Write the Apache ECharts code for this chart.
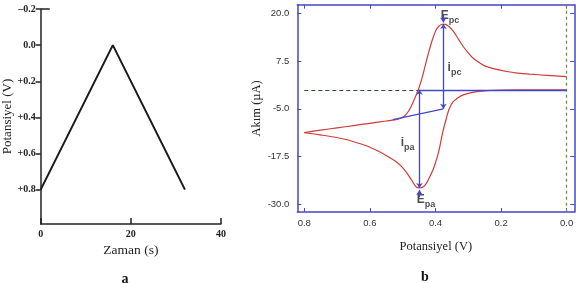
<!DOCTYPE html>
<html>
<head>
<meta charset="utf-8">
<script src="https://cdn.jsdelivr.net/npm/echarts@6/dist/echarts.min.js"></script>
<style>html,body{margin:0;padding:0;background:#fff}#c{width:576px;height:283px}</style>
</head>
<body>
<div id="c"></div>
<script>
// Panel a: triangular potential waveform
var timeS = [0, 16, 32];
var potV = [0.8, 0.0, 0.8];
var aYTicks = [-0.2, 0.0, 0.2, 0.4, 0.6, 0.8];
var aXTicks = [0, 20, 40];

// Panel b: cyclic voltammogram
var fwdV = [0.8, 0.75, 0.7, 0.65, 0.6, 0.55, 0.524, 0.51, 0.50, 0.49, 0.48, 0.47, 0.46, 0.45, 0.44, 0.43, 0.42, 0.41, 0.40, 0.39, 0.38, 0.374, 0.36, 0.346, 0.33, 0.315, 0.30, 0.285, 0.26, 0.244, 0.21, 0.183, 0.15, 0.112, 0.06, 0.0];
var fwdI = [-11.25, -10.6, -10.0, -9.4, -8.8, -8.2, -7.9, -7.6, -7.2, -6.5, -5.3, -3.6, -1.6, 0.6, 3.4, 6.8, 10.1, 13.0, 15.4, 16.7, 17.2, 17.25, 16.7, 15.4, 13.3, 11.3, 9.7, 8.3, 6.8, 6.1, 5.3, 4.8, 4.4, 4.1, 3.8, 3.45];
var revV = [0.0, 0.1, 0.2, 0.244, 0.274, 0.30, 0.315, 0.33, 0.346, 0.358, 0.368, 0.378, 0.391, 0.404, 0.417, 0.428, 0.437, 0.449, 0.46, 0.473, 0.487, 0.503, 0.52, 0.544, 0.575, 0.605, 0.64, 0.676, 0.71, 0.747, 0.8];
var revI = [0.0, 0.0, -0.05, -0.2, -0.5, -0.95, -1.35, -2.0, -3.1, -5.0, -7.8, -11.2, -16.5, -20.2, -22.8, -24.6, -25.5, -25.8, -25.4, -23.7, -21.9, -20.2, -18.9, -17.6, -16.1, -14.9, -13.9, -13.0, -12.4, -11.9, -11.25];
var bXTicks = [0.8, 0.6, 0.4, 0.2, 0.0];
var bYTicks = [-30.0, -17.5, -5.0, 7.5, 20.0];

// annotation values
var epcV = 0.376, epcI = 17.25;
var epaV = 0.449, epaI = -25.8;
var baseStart = [0.53, -7.85];
var baseEnd = [0.376, -5.0];
var zeroDashEnd = 0.452;
var annoMain = ['E', 'i', 'i', 'E'];
var annoSub = ['pc', 'pc', 'pa', 'pa'];
var annoV = [0.356, 0.342, 0.485, 0.429];
var annoI = [19.4, 5.7, -13.95, -28.9];

function zip(a, b) { return a.map(function (v, i) { return [v, b[i]]; }); }

var BLUE = '#4646c8';
var SERIF = '"Liberation Serif","DejaVu Serif",serif';
var SANS = '"Liberation Sans",Arial,sans-serif';
var bXMin = -0.0232, bXMax = 0.8213, bYMin = -32.1, bYMax = 22.35;

var chart = echarts.init(document.getElementById('c'), null, {renderer: 'canvas'});
var blueLine = {color: BLUE, width: 1.3, type: 'solid'};
var option = {
  animation: false,
  backgroundColor: '#fff',
  title: [
    {text: 'a', left: 120, top: 267, textAlign: 'center', textStyle: {fontFamily: SERIF, fontWeight: 'bold', fontSize: 14, color: '#111'}},
    {text: 'b', left: 420, top: 265, textAlign: 'center', textStyle: {fontFamily: SERIF, fontWeight: 'bold', fontSize: 14, color: '#111'}}
  ],
  grid: [
    {left: 40.7, top: 9, width: 180.3, height: 215, outerBoundsMode: 'none', containLabel: false},
    {left: 297.3, top: 4.7, width: 277, height: 207.3, outerBoundsMode: 'none', containLabel: false}
  ],
  xAxis: [
    {gridIndex: 0, type: 'value', min: 0, max: 40,
     axisLine: {onZero: false, lineStyle: {color: '#222', width: 1.5}},
     axisTick: {inside: true, length: 6, customValues: aXTicks, lineStyle: {color: '#222', width: 1.5}},
     axisLabel: {customValues: aXTicks, fontFamily: SERIF, fontWeight: 'bold', fontSize: 10, color: '#222', margin: 5},
     splitLine: {show: false},
     name: 'Zaman (s)', nameLocation: 'middle', nameGap: 16,
     nameTextStyle: {fontFamily: SERIF, fontSize: 13.5, color: '#222'}},
    {gridIndex: 1, type: 'value', min: bXMin, max: bXMax, inverse: true, position: 'bottom',
     axisLine: {onZero: false, lineStyle: {color: BLUE, width: 1.5}},
     axisTick: {inside: true, length: 4, customValues: bXTicks, lineStyle: {color: BLUE}},
     axisLabel: {customValues: bXTicks, formatter: function (v) { return v.toFixed(1); }, fontFamily: SANS, fontSize: 9.5, color: '#333', margin: 6},
     splitLine: {show: false},
     name: 'Potansiyel (V)', nameLocation: 'middle', nameGap: 28,
     nameTextStyle: {fontFamily: SERIF, fontSize: 12.5, color: '#222'}},
    {gridIndex: 1, type: 'value', min: bXMin, max: bXMax, inverse: true, position: 'top',
     axisLine: {onZero: false, lineStyle: {color: BLUE, width: 1.5}},
     axisTick: {inside: true, length: 4, customValues: bXTicks, lineStyle: {color: BLUE}},
     axisLabel: {show: false}, splitLine: {show: false}}
  ],
  yAxis: [
    {gridIndex: 0, type: 'value', min: -0.2, max: 0.99, inverse: true,
     axisLine: {show: true, onZero: false, lineStyle: {color: '#222', width: 1.5}},
     axisTick: {show: true, inside: false, length: 5, customValues: aYTicks, lineStyle: {color: '#222', width: 1.5}},
     axisLabel: {customValues: aYTicks, fontFamily: SERIF, fontWeight: 'bold', fontSize: 10, color: '#222', margin: 5,
       formatter: function (v) { if (Math.abs(v) < 1e-9) return '0.0'; return (v < 0 ? '\u2013' : '+') + Math.abs(v).toFixed(1); }},
     splitLine: {show: false},
     name: 'Potansiyel (V)', nameLocation: 'middle', nameGap: 19,
     nameTextStyle: {fontFamily: SERIF, fontSize: 13, color: '#222'}},
    {gridIndex: 1, type: 'value', min: bYMin, max: bYMax, position: 'left',
     axisLine: {show: true, onZero: false, lineStyle: {color: BLUE, width: 1.5}},
     axisTick: {show: true, inside: true, length: 4, customValues: bYTicks, lineStyle: {color: BLUE}},
     axisLabel: {customValues: bYTicks, formatter: function (v) { return v.toFixed(1); }, fontFamily: SANS, fontSize: 9.5, color: '#333', margin: 8},
     splitLine: {show: false},
     name: 'Ak\u0131m (\u00b5A)', nameLocation: 'middle', nameGap: 34,
     nameTextStyle: {fontFamily: SERIF, fontSize: 12.5, color: '#222'}},
    {gridIndex: 1, type: 'value', min: bYMin, max: bYMax, position: 'right',
     axisLine: {show: true, onZero: false, lineStyle: {color: BLUE, width: 1.5}},
     axisTick: {show: true, inside: true, length: 4, customValues: bYTicks, lineStyle: {color: BLUE}},
     axisLabel: {show: false}, splitLine: {show: false}}
  ],
  series: [
    {type: 'line', xAxisIndex: 0, yAxisIndex: 0, data: zip(timeS, potV), symbol: 'none',
     lineStyle: {color: '#1a1a1a', width: 2},
     markLine: {silent: true, animation: false, symbol: 'none', label: {show: false}, emphasis: {disabled: true},
       data: [[{coord: [0, -0.2], lineStyle: {color: '#222', width: 1.5, type: 'solid'}}, {coord: [2, -0.2]}]]}},
    {type: 'line', xAxisIndex: 1, yAxisIndex: 1, data: [], z: 1,
     markLine: {silent: true, animation: false, symbol: 'none', label: {show: false},
       emphasis: {disabled: true},
       data: [
         [{coord: [0, bYMax], lineStyle: {color: '#6f8f4a', width: 1.3, type: [3, 3]}}, {coord: [0, bYMin]}],
         [{coord: [0.8, 0], lineStyle: {color: '#2f4a2f', width: 1, type: [4, 3]}}, {coord: [zeroDashEnd, 0]}],
         [{coord: [epaV, 0], lineStyle: blueLine}, {coord: [0, 0]}],
         [{coord: baseStart, lineStyle: blueLine}, {coord: baseEnd}],
         [{coord: [epaV, 0], symbol: 'arrow', symbolSize: 5, lineStyle: blueLine}, {coord: [epaV, epaI], symbol: 'arrow', symbolSize: 5}],
         [{coord: [epcV, epcI], symbol: 'arrow', symbolSize: 5, lineStyle: blueLine}, {coord: [epcV, -5.0], symbol: 'arrow', symbolSize: 5}],
         [{coord: [epcV, 19.9], lineStyle: blueLine}, {coord: [epcV, 17.7], symbol: 'arrow', symbolSize: 5}],
         [{coord: [epaV, -28.2], lineStyle: blueLine}, {coord: [epaV, -26.3], symbol: 'arrow', symbolSize: 5}]
       ]}},
    {type: 'line', xAxisIndex: 1, yAxisIndex: 1, data: zip(fwdV, fwdI), symbol: 'none', smooth: 0.3, z: 3,
     lineStyle: {color: '#d23b3b', width: 1.2}},
    {type: 'line', xAxisIndex: 1, yAxisIndex: 1, data: zip(revV, revI), symbol: 'none', smooth: 0.3, z: 3,
     lineStyle: {color: '#d23b3b', width: 1.2}},
    {type: 'scatter', xAxisIndex: 1, yAxisIndex: 1, symbolSize: 0, z: 4, silent: true,
     data: annoV.map(function (v, i) { return [v, annoI[i], annoMain[i], annoSub[i]]; }),
     label: {show: true, position: 'inside',
       formatter: function (p) { return '{m|' + p.value[2] + '}{s|' + p.value[3] + '}'; },
       rich: {
         m: {fontFamily: SANS, fontWeight: 'bold', fontSize: 12, color: '#222', lineHeight: 12, verticalAlign: 'top'},
         s: {fontFamily: SANS, fontWeight: 'bold', fontSize: 9, color: '#222', lineHeight: 9, padding: [6, 0, 0, 0], verticalAlign: 'top'}
       }}}
  ]
};
chart.setOption(option);
</script>
</body>
</html>
